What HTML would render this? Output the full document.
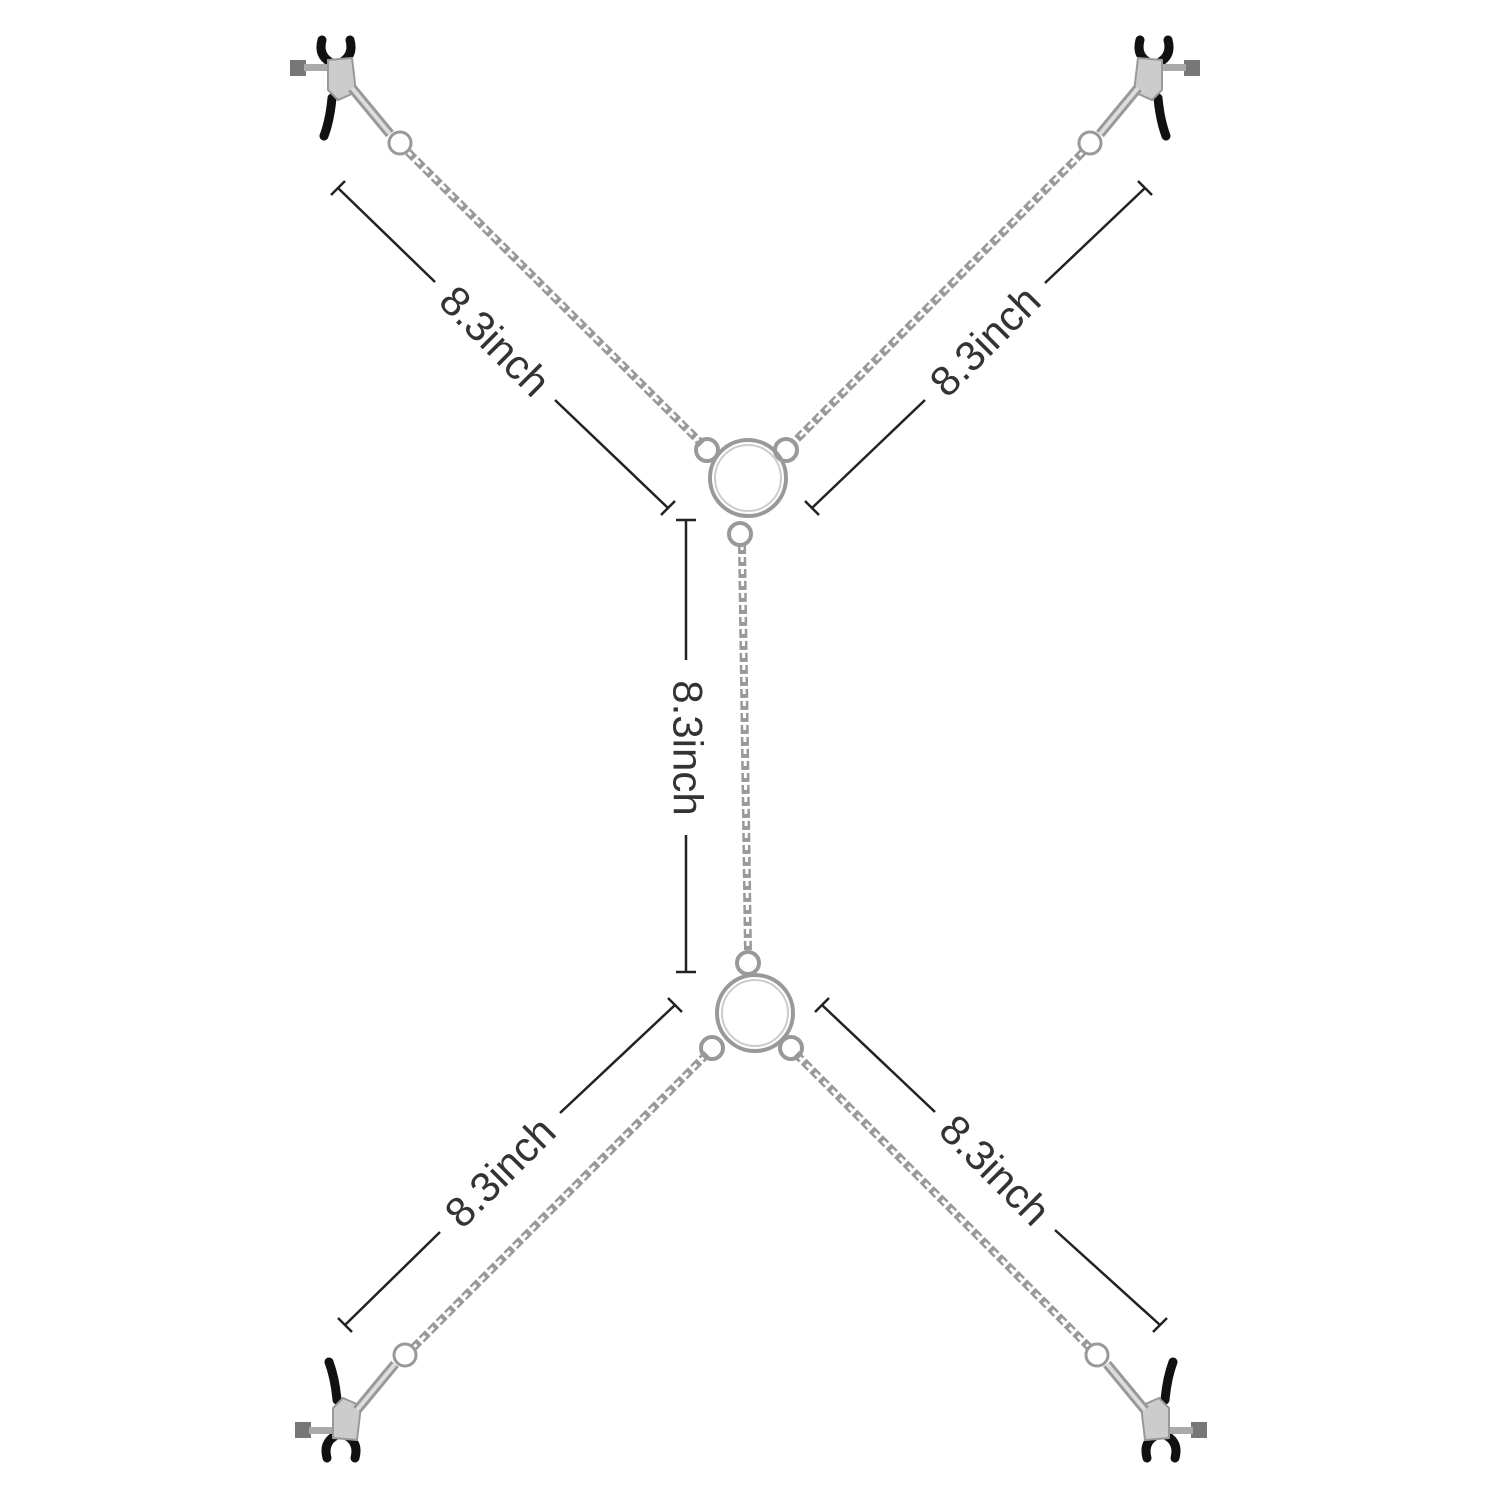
<!DOCTYPE html>
<html><head><style>body{margin:0;background:#fff}svg{display:block}</style></head><body>
<svg width="1500" height="1500" viewBox="0 0 1500 1500" xmlns="http://www.w3.org/2000/svg">
<defs>
<g id="clamp">
  <path d="M322,40 Q318,55 330,62" stroke="#111" stroke-width="9" fill="none" stroke-linecap="round"/>
  <path d="M350,40 Q354,55 342,62" stroke="#111" stroke-width="9" fill="none" stroke-linecap="round"/>
  <path d="M332,98 Q330,120 324,136" stroke="#111" stroke-width="9" fill="none" stroke-linecap="round"/>
  <rect x="290" y="60" width="16" height="16" fill="#777"/>
  <rect x="304" y="64" width="28" height="7" fill="#aaa"/>
  <path d="M328,60 L352,58 L356,92 L338,100 L328,90 Z" fill="#ccc" stroke="#999" stroke-width="2"/>
  <path d="M352,88 L390,134" stroke="#999" stroke-width="10" fill="none"/>
  <path d="M352,88 L390,134" stroke="#ddd" stroke-width="4" fill="none"/>
  <circle cx="400" cy="143" r="11" fill="none" stroke="#999" stroke-width="3"/>
</g>
</defs>
<g id="chains" fill="none">
  <g stroke="#999" stroke-width="8" stroke-dasharray="9 3">
    <line x1="408" y1="152" x2="702" y2="444"/>
    <line x1="1083" y1="152" x2="792" y2="444"/>
    <line x1="413" y1="1348" x2="707" y2="1054"/>
    <line x1="1090" y1="1348" x2="796" y2="1054"/>
    <line x1="742" y1="545" x2="748" y2="952"/>
  </g>
  <g stroke="#fff" stroke-width="3" stroke-dasharray="5 7">
    <line x1="408" y1="152" x2="702" y2="444"/>
    <line x1="1083" y1="152" x2="792" y2="444"/>
    <line x1="413" y1="1348" x2="707" y2="1054"/>
    <line x1="1090" y1="1348" x2="796" y2="1054"/>
    <line x1="742" y1="545" x2="748" y2="952"/>
  </g>
  <g stroke="#999" stroke-width="4">
    <circle cx="748" cy="478" r="38"/><circle cx="748" cy="478" r="33" stroke="#ccc" stroke-width="2"/>
    <circle cx="707" cy="450" r="11"/><circle cx="786" cy="450" r="11"/><circle cx="740" cy="534" r="11"/>
    <circle cx="755" cy="1013" r="38"/><circle cx="755" cy="1013" r="33" stroke="#ccc" stroke-width="2"/>
    <circle cx="748" cy="963" r="11"/><circle cx="712" cy="1048" r="11"/><circle cx="791" cy="1048" r="11"/>
  </g>
</g>
<use href="#clamp"/>
<use href="#clamp" transform="translate(1490,0) scale(-1,1)"/>
<use href="#clamp" transform="translate(5,1498) scale(1,-1)"/>
<use href="#clamp" transform="translate(1497,1498) scale(-1,-1)"/>
<g stroke="#222" stroke-width="2.5" fill="none">
  <path d="M338,188 L435,282 M555,400 L668,508 M331,195 L345,181 M661,515 L675,501"/>
  <path d="M1145,188 L1045,283 M925,400 L812,508 M1138,181 L1152,195 M805,501 L819,515"/>
  <path d="M686,520 L686,660 M686,835 L686,972 M676,520 L696,520 M676,972 L696,972"/>
  <path d="M345,1325 L440,1232 M560,1113 L675,1005 M338,1318 L352,1332 M668,998 L682,1012"/>
  <path d="M822,1005 L935,1112 M1055,1230 L1160,1325 M815,1012 L829,998 M1153,1332 L1167,1318"/>
</g>
<g font-family="Liberation Sans, sans-serif" font-size="42" fill="#333" text-anchor="middle" dominant-baseline="central">
  <text transform="translate(495,341) rotate(45)">8.3inch</text>
  <text transform="translate(985,341) rotate(-45)">8.3inch</text>
  <text transform="translate(688,748) rotate(90)">8.3inch</text>
  <text transform="translate(500,1172) rotate(-45)">8.3inch</text>
  <text transform="translate(995,1170) rotate(45)">8.3inch</text>
</g>
</svg>
</body></html>
